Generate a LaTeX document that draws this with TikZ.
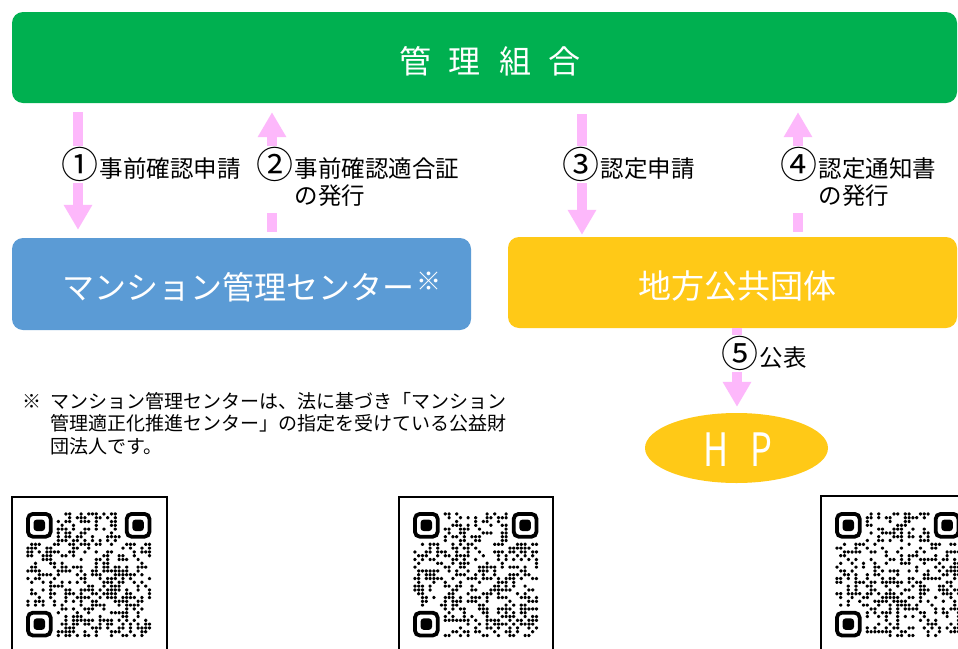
\documentclass[tikz,border=0pt]{standalone}
\usepackage{fontspec}
\setmainfont{Noto Sans CJK JP}
\usetikzlibrary{arrows.meta,shapes.geometric}
\definecolor{gboxc}{HTML}{00B050}
\definecolor{bboxc}{HTML}{5B9BD5}
\definecolor{yboxc}{HTML}{FFC917}
\definecolor{parrc}{HTML}{FDB8FB}
\newcommand\cn[1]{\raisebox{-1.5pt}{\fontsize{37}{37}\selectfont #1}\hspace{1pt}}
\newcommand\qrcodeat[3]{%
  \pgfmathsetseed{#3}%
  \foreach \i in {0,...,32}{\foreach \j in {0,...,32}{%
    \pgfmathtruncatemacro\skipit{(\i<8)*(\j<8)+(\i>24)*(\j<8)+(\i<8)*(\j>24)}%
    \pgfmathrandominteger{\rr}{0}{99}%
    \ifnum\skipit=0 \ifnum\rr<45 \fill[rounded corners=1.2pt] ({#1+\i*3.8+0.3},{#2+\j*3.8+0.3}) rectangle ++(3.2,3.2);\fi\fi
  }}%
  \foreach \dx/\dy in {0/0, 26/0, 0/26}{%
    \draw[line width=3.8pt, rounded corners=5pt] ({#1+\dx*3.8+1.9},{#2+\dy*3.8+1.9}) rectangle ++(22.8,22.8);
    \fill[rounded corners=3pt] ({#1+\dx*3.8+7.6},{#2+\dy*3.8+7.6}) rectangle ++(11.4,11.4);
  }%
}
\tikzset{
  box/.style={rounded corners=11pt, inner sep=0pt, draw=none},
  parrow/.style={draw=parrc, line width=9.5pt, -{Triangle[width=27pt,length=25pt]}},
  lbl/.style={fill=white, inner sep=1.5pt, font=\fontsize{23.5}{25}\selectfont, text=black},
  boxtext/.style={text=white, inner sep=0pt},
  qrframe/.style={draw=black, line width=1.6pt},
}
\begin{document}
\begin{tikzpicture}[x=1pt,y=-1pt]
\clip (0,0) rectangle (958,648);
\fill[white] (0,0) rectangle (958,648);

% boxes
\node[box, fill=gboxc, minimum width=945pt, minimum height=91pt] (kumiai) at (484.5,57.5) {};
\node[box, fill=bboxc, minimum width=459pt, minimum height=92pt] (center) at (241.5,284) {};
\node[box, fill=yboxc, minimum width=449pt, minimum height=91pt] (local) at (732.5,282.5) {};
\node[ellipse, fill=yboxc, draw=none, minimum width=183pt, minimum height=70pt, inner sep=0pt] (hp) at (736.5,448) {};

% box texts
\node[boxtext, font=\fontsize{32}{32}\selectfont] (t1) at (490,61) {管\hspace{18pt}理\hspace{18pt}組\hspace{18pt}合};
\node[boxtext, anchor=west, font=\fontsize{32}{32}\selectfont] (t2) at (62,287) {マンション管理センター\hspace{2pt}\raisebox{9pt}{\fontsize{25}{25}\selectfont ※}};
\node[boxtext, font=\fontsize{33}{33}\selectfont] (t3) at (737,286) {地方公共団体};
\node[boxtext, font=\fontsize{46}{46}\selectfont] (t4) at (738,450) {\scalebox{0.75}[1]{H}\hspace{22pt}\scalebox{0.75}[1]{P}};

% arrows
\draw[parrow, shorten <=9pt, shorten >=8pt] (78,0 |- kumiai.south) -- (78,0 |- center.north);
\draw[parrow, shorten <=6pt, shorten >=9pt] (272,0 |- center.north) -- (272,0 |- kumiai.south);
\draw[parrow, shorten <=11pt, shorten >=2pt] (582,0 |- kumiai.south) -- (582,0 |- local.north);
\draw[parrow, shorten <=5pt, shorten >=9pt] (798,0 |- local.north) -- (798,0 |- kumiai.south);
\draw[parrow, shorten >=6pt] (737,0 |- local.south) -- (737,0 |- hp.north);

% labels
\node[lbl, anchor=base west] (l1) at (60,177) {\cn{①}事前確認申請};
\node[lbl, anchor=base west] (l2) at (255,177) {\cn{②}\begin{tabular}[t]{@{}l@{}}事前確認適合証\\の発行\end{tabular}};
\node[lbl, anchor=base west] (l3) at (561,177) {\cn{③}認定申請};
\node[lbl, anchor=base west] (l4) at (779,177) {\cn{④}\begin{tabular}[t]{@{}l@{}}認定通知書\\の発行\end{tabular}};
\node[lbl, anchor=base west] (l5) at (720,366) {\cn{⑤}公表};

% note
\node[anchor=north west, inner sep=0pt, font=\fontsize{19}{22}\selectfont] (note) at (22,392)
  {\begin{tabular}{@{}l@{\hspace{9pt}}l@{}}※&マンション管理センターは、法に基づき「マンション\\&管理適正化推進センター」の指定を受けている公益財\\&団法人です。\end{tabular}};

% QR codes
\draw[qrframe] (12,497) rectangle (167,660);
\draw[qrframe] (399,497) rectangle (553,660);
\draw[qrframe] (821,496) rectangle (975,660);
\qrcodeat{26}{512}{11}
\qrcodeat{413}{512}{27}
\qrcodeat{835}{512}{53}
\end{tikzpicture}
\end{document}
